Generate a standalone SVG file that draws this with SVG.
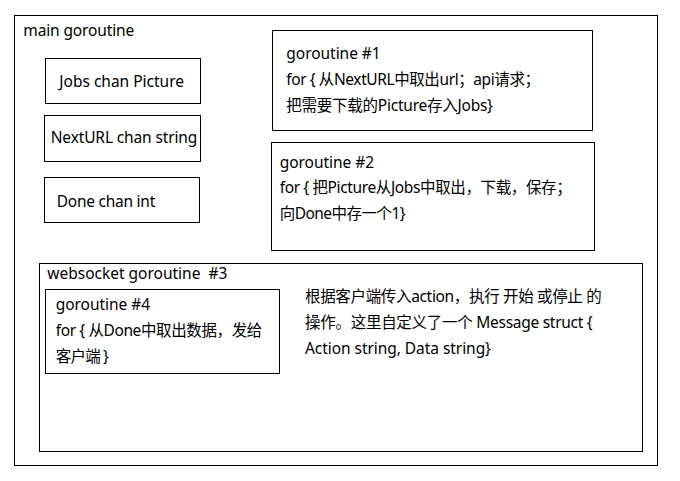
<svg xmlns="http://www.w3.org/2000/svg" width="680" height="481" viewBox="0 0 680 481">
<style>
rect{fill:none;stroke:#000;stroke-width:1}
text{font-family:"Noto Sans","Noto Sans CJK SC",sans-serif;font-size:15.5px;fill:#000}
</style>
<rect x="0" y="0" width="680" height="481" style="fill:#fff;stroke:none"/>
<g id="main">
<rect x="14.5" y="15.5" width="643" height="450"/>
<text x="23.3" y="36" textLength="111">main goroutine</text>
</g>
<g id="jobs">
<rect x="45.5" y="58.5" width="155" height="45"/>
<text x="59.3" y="87.3" textLength="124.7">Jobs chan Picture</text>
</g>
<g id="nexturl">
<rect x="44.5" y="115.5" width="156" height="46"/>
<text x="50.7" y="143" textLength="146.6">NextURL chan string</text>
</g>
<g id="done">
<rect x="44.5" y="177.5" width="155" height="45"/>
<text x="56.7" y="206.7" textLength="98.6">Done chan int</text>
</g>
<g id="g1">
<rect x="272.5" y="30.5" width="320" height="100"/>
<text x="286.3" y="59.3" textLength="94.4">goroutine #1</text>
<text x="286.3" y="85" textLength="253.7">for { 从NextURL中取出url；api请求；</text>
<text x="286.3" y="110.7" textLength="206.7">把需要下载的Picture存入Jobs}</text>
</g>
<g id="g2">
<rect x="271.5" y="142.5" width="323" height="108"/>
<text x="279.7" y="167.7" textLength="94.3">goroutine #2</text>
<text x="279.7" y="193" textLength="292">for { 把Picture从Jobs中取出，下载，保存；</text>
<text x="279.7" y="219.3" textLength="126">向Done中存一个1}</text>
</g>
<g id="g3">
<rect x="39.5" y="263.5" width="603" height="188"/>
<text x="47.3" y="279" textLength="180" xml:space="preserve">websocket goroutine  #3</text>
<text x="305" y="302.3" textLength="296.7">根据客户端传入action，执行 开始 或停止 的</text>
<text x="305" y="328.3" textLength="287.7">操作。这里自定义了一个 Message struct {</text>
<text x="305" y="354.3" textLength="186">Action string, Data string}</text>
</g>
<g id="g4">
<rect x="45.5" y="289.5" width="234" height="84"/>
<text x="55.7" y="310" textLength="94.3">goroutine #4</text>
<text x="55.7" y="336" textLength="206.6">for { 从Done中取出数据，发给</text>
<text x="55.7" y="361.7" textLength="53.3">客户端 }</text>
</g>
</svg>
